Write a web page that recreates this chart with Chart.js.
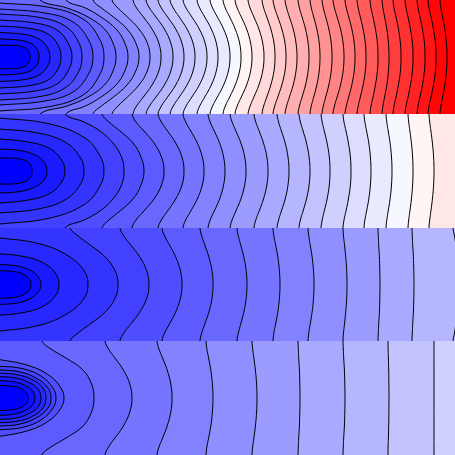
<!DOCTYPE html>
<html><head><meta charset="utf-8">
<script src="https://cdn.jsdelivr.net/npm/chart.js@4"></script>
<style>
html,body{margin:0;padding:0;background:#fff;width:455px;height:455px;overflow:hidden}
canvas{position:absolute;left:0;display:block}
</style></head><body>
<canvas id="p1" width="455" height="114" style="top:0"></canvas>
<canvas id="p2" width="455" height="114" style="top:114px"></canvas>
<canvas id="p3" width="455" height="113" style="top:228px"></canvas>
<canvas id="p4" width="455" height="114" style="top:341px"></canvas>
<script>
// distance from the panel mid-line at which the open contours were read
const stations = [0,14,28,40,49,57];

// closed contours, half profile [x, distance from mid-line], innermost first
const panel1Ovals = [
 [[30,0],[28,6.5],[22,10.5],[10,11.7],[-10,11.7]],
 [[39,0],[37,8],[30,14],[18,17],[0,18],[-10,18.3]],
 [[50,0],[47,10],[39,18],[25,22.5],[0,24.5],[-10,25]],
 [[61,0],[58,12],[48,23],[30,28.5],[0,31],[-10,31.3]],
 [[72,0],[68,14],[57,27],[35,34],[0,37],[-10,37.3]],
 [[82,0],[78,16],[65,31],[40,39.5],[0,43],[-10,43.5]],
 [[93,0],[88,18],[73,35],[45,44],[0,48],[-10,48.5]],
 [[104,0],[99,19],[83,38],[50,49.5],[0,54],[-10,54.5]]
];
// open contours, x at each station
const panel1Lines = [
 [116,113,104.5,88,67,40],[128,124.8,116,101,85.5,66],[139,135.8,127,113.5,101.5,93],
 [150,147.3,139,127.5,118,112],[161,158.8,152,143.4,136.6,133],[173,170.8,164.4,156,149.5,146],
 [184,181.9,175.7,167.6,161.4,158],[195,193,187,179.3,173.3,170],[207,205.1,199.3,191.9,186.1,183],
 [218,216.3,211.3,204.8,199.7,197],[230,228.4,223.6,217.4,212.6,210],[241,239.6,235.2,229.7,225.3,223],
 [252,250.6,246.6,241.3,237.2,235],[264,262.7,258.9,253.9,250.1,248],[275,274,270.8,266.8,263.7,262],
 [286,285,281.8,277.8,274.7,273],[297,296,293.2,289.4,286.6,285],[309,308.1,305.5,302.1,299.4,298],
 [320,319.2,316.8,313.7,311.3,310],[332,331.2,328.8,325.7,323.3,322],[344,343.1,340.5,337.1,334.4,333],
 [355,354.2,351.8,348.7,346.3,345],[366,365.3,363.1,360.3,358.2,357],[378,377.4,375.4,373,371,370],
 [389,388.4,386.8,384.6,382.9,382],[401,400.4,398.4,396,394,393],[413,412.4,410.4,408,406,405],
 [425,424.4,422.4,420,418,417],[436,435.4,433.4,431,429,428],[447,446.4,444.8,442.6,440.9,440]
];

const panel2Ovals = [
 [[32,0],[30,7],[24,11],[12,13],[0,13],[-10,13]],
 [[47,0],[44,9],[35,16],[20,20.5],[0,22],[-10,22]],
 [[65,0],[61,12],[49,23],[28,29],[0,32],[-10,32]],
 [[84,0],[80,14],[65,29],[38,38],[0,42],[-10,42.5]],
 [[104,0],[100,15],[85,33],[50,47],[0,53],[-10,53.5]]
];
const panel2Lines = [
 [124,121.5,113,100,84,65],[144,141,133,120,109,102],[164,161.5,154,144,136,132],
 [184,182,175.7,167.6,161.4,158],[204,202.3,197.3,190.8,185.7,183],[225,223.6,219.6,214.3,210.2,208],
 [246,244.7,240.9,235.9,232.1,230],[268,266.9,263.5,259.2,255.8,254],[289,288,285.2,281.4,278.6,277],
 [310,309.1,306.5,303.1,300.4,299],[330,329.3,327.1,324.3,322.2,321],[351,350.4,348.4,346,344,343],
 [371,370.4,368.8,366.6,364.9,364],[392,391.5,390.1,388.2,386.8,386],[413,412.6,411.4,409.9,408.7,408],
 [434,433.6,432.4,430.9,429.7,429]
];

const panel3Ovals = [
 [[31,0],[29,6],[22,11],[10,13.5],[0,13.7],[-10,13.7]],
 [[41,0],[38,8],[29,15],[15,19],[0,20],[-10,20]],
 [[59,0],[55,12],[43,22],[25,28],[0,31],[-10,31]],
 [[88,0],[84,14],[68,29],[40,41],[0,47],[-10,47.5]]
];
const panel3Lines = [
 [118,115,105,90,78,70],[149,146.7,139.7,130.7,123.8,120],[182,180.4,175.6,169.4,164.6,162],
 [213,212,208.8,204.8,201.7,200],[247,246.2,243.8,240.7,238.3,237],[280,279.4,277.8,275.6,273.9,273],
 [314,313.5,312.1,310.2,308.8,308],[347,346.7,345.7,344.5,343.5,343],[380,379.8,379.4,378.7,378.3,378],
 [414,413.8,413.4,412.7,412.3,412],[462,461,459,456,454.5,453]
];

const panel4Ovals = [
 [[28,0],[26,6],[18,10.5],[8,12.2],[0,12.5],[-10,12.5]],
 [[35,0],[32,7.5],[23,13.5],[12,16.5],[0,17.3],[-10,17.3]],
 [[41,0],[38,9],[27,16.5],[14,20.3],[0,21.3],[-10,21.3]],
 [[46,0],[43,10],[32,18.5],[16,23.5],[0,24.7],[-10,24.7]],
 [[51,0],[48,10],[36,20],[19,26.3],[0,28],[-10,28]],
 [[56,0],[53,10],[41,22],[22,29.5],[0,31.7],[-10,31.7]],
 [[64,0],[61,10],[50,22],[30,32],[0,38.3],[-10,38.8]]
];
const panel4Lines = [
 [94,91.5,83,66,51,42],[132,129.8,123.4,115,108.5,105],[172,170.8,167.2,162.6,159,157],
 [213,212.4,210.8,208.6,206.9,206],[257,256.6,255.4,253.9,252.7,252],[300,299.8,299.4,298.7,298.3,298],
 [345,344.8,344.4,343.7,343.3,343],[389,388.9,388.7,388.4,388.1,388],[434,434,434,434,434,434]
];

function bandColor(i){
  if (i<20){ const v=13*i; return `rgb(${v},${v},255)`; }
  const v=Math.max(0,245-14*(i-20)); return `rgb(255,${v},${v})`;
}
function ovalPoints(p){
  const top=p.slice(1).reverse().map(([x,d])=>({x,y:-d}));
  return top.concat(p.map(([x,d])=>({x,y:d})));
}
function linePoints(xs){
  const half=xs.map((x,k)=>[x,stations[k]]);
  const last=xs[xs.length-1];
  half.push([last,70]);
  half.push([-80,70]);
  return ovalPoints(half);
}
function panel(id,ovals,lines){
  const contours=ovals.map(ovalPoints).concat(lines.map(linePoints));
  const canvas=document.getElementById(id);
  canvas.style.background=bandColor(contours.length);
  new Chart(canvas,{
    type:'scatter',
    data:{datasets:contours.map((pts,i)=>({
      data:pts,showLine:true,pointRadius:0,pointHoverRadius:0,
      borderColor:'#000',borderWidth:1,tension:0.4,
      fill:'shape',backgroundColor:bandColor(i)
    }))},
    options:{
      responsive:false,animation:false,events:[],
      layout:{padding:0},
      elements:{line:{capBezierPoints:false}},
      plugins:{legend:{display:false},tooltip:{enabled:false},title:{display:false}},
      scales:{
        x:{type:'linear',min:0,max:455,display:false},
        y:{type:'linear',min:-57,max:57,display:false}
      }
    }
  });
}
panel('p1',panel1Ovals,panel1Lines);
panel('p2',panel2Ovals,panel2Lines);
panel('p3',panel3Ovals,panel3Lines);
panel('p4',panel4Ovals,panel4Lines);
</script>
</body></html>
